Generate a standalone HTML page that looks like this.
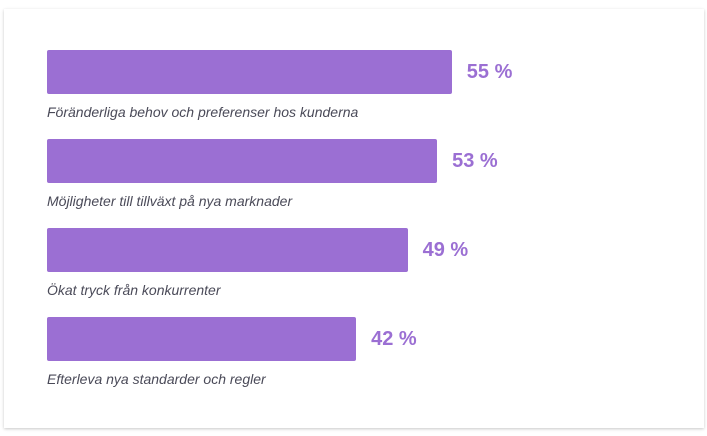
<!DOCTYPE html>
<html><head><meta charset="utf-8"><style>
body{margin:0;width:707px;height:436px;background:#fff;overflow:hidden;font-family:"Liberation Sans",sans-serif}
#card{position:absolute;left:4px;top:9px;width:700px;height:419px;background:#fff;box-shadow:0 1px 3px rgba(0,0,0,0.22)}
.bar{position:absolute;left:47px;height:44px;background:#9b6fd3;border-radius:2px}
.val{position:absolute;font-size:20px;font-weight:bold;color:#9b6fd3;line-height:24px}
.lbl{position:absolute;left:47px;font-size:14px;font-style:italic;color:#4a4a58;line-height:18px}
</style></head><body>
<div id="card"></div>
<div id="chart"></div>
<script>
const categories=["Föränderliga behov och preferenser hos kunderna","Möjligheter till tillväxt på nya marknader","Ökat tryck från konkurrenter","Efterleva nya standarder och regler"];
const values=[55,53,49,42];
const valueLabels=["55 %","53 %","49 %","42 %"];
const x=v=>v*7.36;
const y=i=>50+i*89;
const root=document.getElementById('chart');
values.forEach((v,i)=>{
 const b=document.createElement('div');b.className='bar';
 
 
 b.style.top=y(i)+'px';b.style.width=x(v)+'px';root.appendChild(b);
 const t=document.createElement('div');t.className='val';
 
 
 t.style.top=(y(i)+10)+'px';t.style.left=(47+x(v)+15)+'px';t.textContent=valueLabels[i];root.appendChild(t);
 const l=document.createElement('div');l.className='lbl';
 
 
 l.style.top=(y(i)+53)+'px';l.textContent=categories[i];root.appendChild(l);
});
</script>
</body></html>
